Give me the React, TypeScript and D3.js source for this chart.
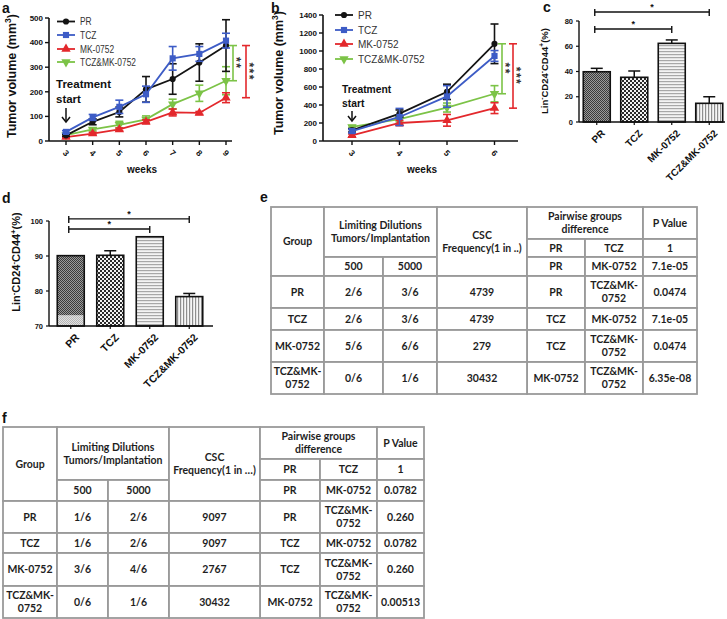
import React from 'react';
import * as d3 from 'd3';

// ---------- DATA ----------
const seriesNames = ['PR', 'TCZ', 'MK-0752', 'TCZ&MK-0752'];
const seriesColors = ['#141414', '#3d5cc6', '#e3282c', '#7cc347'];

const weeksA = [3, 4, 5, 6, 7, 8, 9];
const prA = [23, 78, 118, 210, 252, 319, 388];
const prAErr = [4, 12, 20, 52, 62, 76, 105];
const tczA = [37, 96, 139, 190, 336, 354, 408];
const tczAErr = [5, 12, 27, 33, 48, 30, 30];
const mkA = [16, 30, 47, 78, 116, 114, 176];
const mkAErr = [3, 5, 6, 8, 14, 6, 20];
const comboA = [24, 47, 66, 88, 150, 194, 245];
const comboAErr = [4, 6, 14, 14, 20, 33, 57];
const yTicksA = [0, 100, 200, 300, 400, 500];

const weeksB = [3, 4, 5, 6];
const prB = [119, 305, 546, 1080];
const prBErr = [20, 40, 85, 220];
const tczB = [110, 267, 495, 945];
const tczBErr = [20, 95, 120, 60];
const mkB = [63, 200, 230, 365];
const mkBErr = [15, 30, 65, 60];
const comboB = [156, 242, 372, 525];
const comboBErr = [15, 30, 50, 90];
const yTicksB = [0, 200, 400, 600, 800, 1000, 1200, 1400];

const barCats = ['PR', 'TCZ', 'MK-0752', 'TCZ&MK-0752'];
const cVals = [39.8, 35.4, 62.3, 14.8];
const cErr = [2.7, 5, 2.7, 5.2];
const cTicks = [0, 20, 40, 60, 80];
const dVals = [90.1, 90.2, 95.5, 78.4];
const dErr = [0, 1.3, 0, 0.9];
const dTicks = [70, 80, 90, 100];
const dPRLightTop = 73.1;

const eGroups = ['PR', 'TCZ', 'MK-0752', 'TCZ&MK-0752'];
const e500 = ['2/6', '2/6', '5/6', '0/6'];
const e5000 = ['3/6', '3/6', '6/6', '1/6'];
const eFreq = ['4739', '4739', '279', '30432'];
const pairA = ['PR', 'PR', 'PR', 'TCZ', 'TCZ', 'MK-0752'];
const pairB = ['TCZ', 'MK-0752', 'TCZ&MK-0752', 'MK-0752', 'TCZ&MK-0752', 'TCZ&MK-0752'];
const ePval = ['1', '7.1e-05', '0.0474', '7.1e-05', '0.0474', '6.35e-08'];

const f500 = ['1/6', '1/6', '3/6', '0/6'];
const f5000 = ['2/6', '2/6', '4/6', '1/6'];
const fFreq = ['9097', '9097', '2767', '30432'];
const fPval = ['1', '0.0782', '0.260', '0.0782', '0.260', '0.00513'];

// ---------- STYLE ----------
const FONT = "'Liberation Sans', Arial, Helvetica, sans-serif";
const TFONT = "Lato, 'Open Sans', sans-serif";
const symbols = [d3.symbolCircle, d3.symbolSquare, d3.symbolTriangle, d3.symbolTriangle];
const symSizes = [30, 38, 38, 38];
const symRot = [0, 0, 0, 180];

function Marker({ i, x, y, scale = 1 }: { i: number; x: number; y: number; scale?: number }) {
  const p = d3.symbol().type(symbols[i]).size(symSizes[i] * scale)()!;
  return <path d={p} transform={`translate(${x},${y}) rotate(${symRot[i]})`} fill={seriesColors[i]} />;
}

type LineCfg = {
  weeks: number[];
  vals: number[][];
  errs: number[][];
  yMax: number;
  yTicks: number[];
  xRange: [number, number];
  yRange: [number, number];
  axisX: number;
  xEnd: number;
  legend: { x: number; ys: number[]; fs: number; sx: number };
  treat: { tx: number; ty1: number; ty2: number; fs: number; ay1: number; ay2: number };
  title: { x: number; y: number };
  weeksLbl: { x: number; y: number };
  brackets: { dx: number; toIdx: number; stars: string; sdx: number }[];
};

function LinePanel({ c }: { c: LineCfg }) {
  const x = d3.scaleLinear().domain([c.weeks[0], c.weeks[c.weeks.length - 1]]).range(c.xRange);
  const y = d3.scaleLinear().domain([0, c.yMax]).range(c.yRange);
  const lastX = x(c.weeks[c.weeks.length - 1]);
  const order = [3, 2, 0, 1];
  const line = d3.line<number>().x((_, i) => x(c.weeks[i])).y((d) => y(d));
  const prLast = c.vals[0][c.vals[0].length - 1];
  return (
    <g fontFamily={FONT}>
      <line x1={c.axisX} x2={c.axisX} y1={y(0)} y2={y(c.yMax)} stroke="#111" strokeWidth={1.6} />
      <line x1={c.axisX} x2={c.xEnd} y1={y(0)} y2={y(0)} stroke="#111" strokeWidth={1.6} />
      {c.yTicks.map((t) => (
        <g key={t}>
          <line x1={c.axisX - 4} x2={c.axisX} y1={y(t)} y2={y(t)} stroke="#111" strokeWidth={1.4} />
          <text x={c.axisX - 6} y={y(t)} dy="0.35em" textAnchor="end" fontSize={8} fontWeight="bold" fill="#111">{t}</text>
        </g>
      ))}
      {c.weeks.map((w) => (
        <g key={w}>
          <line x1={x(w)} x2={x(w)} y1={y(0)} y2={y(0) + 4} stroke="#111" strokeWidth={1.4} />
          <text transform={`translate(${x(w)},${y(0) + 12}) rotate(45)`} textAnchor="middle" dy="0.35em" fontSize={8.5} fontWeight="bold" fill="#111">{w}</text>
        </g>
      ))}
      <text x={c.weeksLbl.x} y={c.weeksLbl.y} textAnchor="middle" fontSize={10} fontWeight="bold" fill="#111">weeks</text>
      <text transform={`translate(${c.title.x},${c.title.y}) rotate(-90)`} textAnchor="middle" dy="0.35em" fontSize={12.5} fontWeight="bold" fill="#111">
        Tumor volume (mm<tspan dy={-5} fontSize={8.5}>3</tspan><tspan dy={5}>)</tspan>
      </text>
      {order.map((s) => (
        <g key={s}>
          {c.vals[s].map((v, i) => {
            const e = c.errs[s][i];
            const xx = x(c.weeks[i]);
            return (
              <g key={i} stroke={seriesColors[s]} strokeWidth={1.6}>
                <line x1={xx} x2={xx} y1={y(v - e)} y2={y(v + e)} />
                <line x1={xx - 4} x2={xx + 4} y1={y(v + e)} y2={y(v + e)} />
                <line x1={xx - 4} x2={xx + 4} y1={y(v - e)} y2={y(v - e)} />
              </g>
            );
          })}
          <path d={line(c.vals[s])!} fill="none" stroke={seriesColors[s]} strokeWidth={1.8} />
          {c.vals[s].map((v, i) => (
            <Marker key={i} i={s} x={x(c.weeks[i])} y={y(v)} />
          ))}
        </g>
      ))}
      {c.brackets.map((b, k) => {
        const bx = lastX + b.dx;
        const other = c.vals[b.toIdx][c.vals[b.toIdx].length - 1];
        const y1 = y(prLast), y2 = y(other);
        return (
          <g key={k}>
            <g stroke={seriesColors[b.toIdx]} strokeWidth={1.6}>
              <line x1={bx} x2={bx} y1={y1} y2={y2} />
              <line x1={bx - 4} x2={bx + 4} y1={y1} y2={y1} />
              <line x1={bx - 4} x2={bx + 4} y1={y2} y2={y2} />
            </g>
            <text transform={`translate(${bx + b.sdx},${(y1 + y2) / 2}) rotate(90)`} textAnchor="middle" dy="0.7em" fontSize={12} fontWeight="bold" fill="#333" letterSpacing={1.5}>{b.stars}</text>
          </g>
        );
      })}
      {seriesNames.map((n, s) => (
        <g key={n}>
          <line x1={c.legend.x} x2={c.legend.x + 18} y1={c.legend.ys[s]} y2={c.legend.ys[s]} stroke={seriesColors[s]} strokeWidth={1.8} />
          <Marker i={s} x={c.legend.x + 9} y={c.legend.ys[s]} />
          <text transform={`translate(${c.legend.x + 23},${c.legend.ys[s]}) scale(${c.legend.sx},1)`} dy="0.36em" fontSize={c.legend.fs} fill="#333">{n}</text>
        </g>
      ))}
      <text x={c.treat.tx} y={c.treat.ty1} fontSize={c.treat.fs} fontWeight="bold" fill="#111">Treatment</text>
      <text x={c.treat.tx} y={c.treat.ty2} fontSize={c.treat.fs} fontWeight="bold" fill="#111">start</text>
      <g stroke="#111" strokeWidth={1.5} fill="none">
        <line x1={x(c.weeks[0])} x2={x(c.weeks[0])} y1={c.treat.ay1} y2={c.treat.ay2} />
        <polyline points={`${x(c.weeks[0]) - 4},${c.treat.ay2 - 5} ${x(c.weeks[0])},${c.treat.ay2} ${x(c.weeks[0]) + 4},${c.treat.ay2 - 5}`} />
      </g>
    </g>
  );
}

const patIds = ['patPR', 'patTCZ', 'patMK', 'patCombo'];

function Patterns() {
  return (
    <defs>
      <pattern id="patPR" width={2} height={2} patternUnits="userSpaceOnUse">
        <rect width={2} height={2} fill="#9a9a9a" />
        <rect width={1} height={1} fill="#3a3a3a" />
        <rect x={1} y={1} width={1} height={1} fill="#3a3a3a" />
      </pattern>
      <pattern id="patPRLight" width={2} height={2} patternUnits="userSpaceOnUse">
        <rect width={2} height={2} fill="#e2e2e2" />
        <rect width={1} height={1} fill="#b5b5b5" />
        <rect x={1} y={1} width={1} height={1} fill="#b5b5b5" />
      </pattern>
      <pattern id="patTCZ" width={4} height={4} patternUnits="userSpaceOnUse">
        <rect width={4} height={4} fill="#2a2a2a" />
        <rect width={2} height={2} fill="#f2f2f2" />
        <rect x={2} y={2} width={2} height={2} fill="#f2f2f2" />
      </pattern>
      <pattern id="patMK" width={3} height={3} patternUnits="userSpaceOnUse">
        <rect width={3} height={3} fill="#f4f4f4" />
        <rect width={3} height={1.2} fill="#a8a8a8" />
      </pattern>
      <pattern id="patCombo" width={3} height={3} patternUnits="userSpaceOnUse">
        <rect width={3} height={3} fill="#f6f6f6" />
        <rect width={1.2} height={3} fill="#8e8e8e" />
      </pattern>
    </defs>
  );
}

type BarCfg = {
  vals: number[];
  errs: number[];
  ticks: number[];
  yDomain: [number, number];
  yRange: [number, number];
  xRange: [number, number];
  axisX: number;
  xEnd: number;
  bw: number;
  tickFs: number;
  lblFs: number;
  titleFs: number;
  title: { x: number; y: number };
  sig: { from: number; to: number; level: number }[];
  light?: number;
};

function BarPanel({ c }: { c: BarCfg }) {
  const x = d3.scalePoint<string>().domain(barCats).range(c.xRange).padding(0.5);
  const y = d3.scaleLinear().domain(c.yDomain).range(c.yRange);
  const y0 = y(c.yDomain[0]);
  return (
    <g fontFamily={FONT}>
      {barCats.map((cat, i) => {
        const xc = x(cat)!;
        const v = c.vals[i];
        const e = c.errs[i];
        return (
          <g key={cat}>
            <rect x={xc - c.bw / 2} y={y(v)} width={c.bw} height={y0 - y(v)} fill={`url(#${patIds[i]})`} />
            {i === 0 && c.light !== undefined && (
              <rect x={xc - c.bw / 2} y={y(c.light)} width={c.bw} height={y0 - y(c.light)} fill="url(#patPRLight)" />
            )}
            <rect x={xc - c.bw / 2} y={y(v)} width={c.bw} height={y0 - y(v)} fill="none" stroke="#111" strokeWidth={1.6} />
            {e > 0 && (
              <g stroke="#111" strokeWidth={1.5}>
                <line x1={xc} x2={xc} y1={y(v)} y2={y(v + e)} />
                <line x1={xc - 6} x2={xc + 6} y1={y(v + e)} y2={y(v + e)} />
              </g>
            )}
            <text transform={`translate(${xc + 4},${y0 + 7}) rotate(-45)`} textAnchor="end" dy="0.7em" fontSize={c.lblFs} fontWeight="bold" fill="#111">{cat}</text>
          </g>
        );
      })}
      <line x1={c.axisX} x2={c.axisX} y1={y0} y2={y(c.yDomain[1])} stroke="#111" strokeWidth={1.4} />
      <line x1={c.axisX} x2={c.xEnd} y1={y0} y2={y0} stroke="#111" strokeWidth={1.4} />
      {c.ticks.map((t) => (
        <g key={t}>
          <line x1={c.axisX - 3} x2={c.axisX} y1={y(t)} y2={y(t)} stroke="#111" strokeWidth={1.2} />
          <text x={c.axisX - 6} y={y(t)} dy="0.35em" textAnchor="end" fontSize={c.tickFs} fontWeight="bold" fill="#111">{t}</text>
        </g>
      ))}
      {barCats.map((cat) => (
        <line key={cat} x1={x(cat)!} x2={x(cat)!} y1={y0} y2={y0 + 3} stroke="#111" strokeWidth={1.2} />
      ))}
      {c.sig.map((s, k) => {
        const x1 = x(barCats[s.from])! - 2, x2 = x(barCats[s.to])!;
        const yy = y(s.level);
        return (
          <g key={k} stroke="#111" strokeWidth={1.4}>
            <line x1={x1} x2={x2} y1={yy} y2={yy} />
            <line x1={x1} x2={x1} y1={yy - 3} y2={yy + 4} />
            <line x1={x2} x2={x2} y1={yy - 3} y2={yy + 4} />
            <text x={(x1 + x2) / 2} y={yy - 2} textAnchor="middle" fontSize={9} fontWeight="bold" stroke="none" fill="#111">*</text>
          </g>
        );
      })}
      <text transform={`translate(${c.title.x},${c.title.y}) rotate(-90)`} textAnchor="middle" dy="0.35em" fontSize={c.titleFs} fontWeight="bold" fill="#111">
        Lin<tspan dy={-4} fontSize={c.titleFs * 0.7}>-</tspan><tspan dy={4}>CD24</tspan><tspan dy={-4} fontSize={c.titleFs * 0.7}>-</tspan><tspan dy={4}>CD44</tspan><tspan dy={-4} fontSize={c.titleFs * 0.7}>+</tspan><tspan dy={4}>(%)</tspan>
      </text>
    </g>
  );
}

type Cell = { c0: number; c1: number; r0: number; r1: number; lines: string[] };

function wrapLabel(s: string): string[] {
  return s.includes('&') ? [s.slice(0, s.indexOf('-') + 1), s.slice(s.indexOf('-') + 1)] : [s];
}

function buildCells(g500: string[], g5000: string[], freq: string[], pval: string[], freqHdr: string): Cell[] {
  const cells: Cell[] = [
    { c0: 0, c1: 0, r0: 0, r1: 2, lines: ['Group'] },
    { c0: 1, c1: 2, r0: 0, r1: 1, lines: ['Limiting Dilutions', 'Tumors/Implantation'] },
    { c0: 1, c1: 1, r0: 2, r1: 2, lines: ['500'] },
    { c0: 2, c1: 2, r0: 2, r1: 2, lines: ['5000'] },
    { c0: 3, c1: 3, r0: 0, r1: 2, lines: ['CSC', freqHdr] },
    { c0: 4, c1: 5, r0: 0, r1: 0, lines: ['Pairwise groups', 'difference'] },
    { c0: 6, c1: 6, r0: 0, r1: 0, lines: ['P Value'] },
  ];
  pairA.forEach((a, i) => {
    cells.push({ c0: 4, c1: 4, r0: i + 1, r1: i + 1, lines: wrapLabel(a) });
    cells.push({ c0: 5, c1: 5, r0: i + 1, r1: i + 1, lines: wrapLabel(pairB[i]) });
    cells.push({ c0: 6, c1: 6, r0: i + 1, r1: i + 1, lines: [pval[i]] });
  });
  eGroups.forEach((g, i) => {
    cells.push({ c0: 0, c1: 0, r0: i + 3, r1: i + 3, lines: wrapLabel(g) });
    cells.push({ c0: 1, c1: 1, r0: i + 3, r1: i + 3, lines: [g500[i]] });
    cells.push({ c0: 2, c1: 2, r0: i + 3, r1: i + 3, lines: [g5000[i]] });
    cells.push({ c0: 3, c1: 3, r0: i + 3, r1: i + 3, lines: [freq[i]] });
  });
  return cells;
}

function Table({ x0, y0, colW, rowH, cells, fs }: { x0: number; y0: number; colW: number[]; rowH: number[]; cells: Cell[]; fs: number }) {
  const xs = [x0];
  colW.forEach((w) => xs.push(xs[xs.length - 1] + w));
  const ys = [y0];
  rowH.forEach((h) => ys.push(ys[ys.length - 1] + h));
  const lh = fs * 1.2;
  return (
    <g fontFamily={TFONT}>
      {cells.map((c, k) => {
        const X0 = xs[c.c0], X1 = xs[c.c1 + 1], Y0 = ys[c.r0], Y1 = ys[c.r1 + 1];
        const cx = (X0 + X1) / 2, cy = (Y0 + Y1) / 2;
        return (
          <g key={k}>
            <rect x={X0} y={Y0} width={X1 - X0} height={Y1 - Y0} fill="#fff" stroke="#9a9a9a" strokeWidth={1.8} />
            {c.lines.map((l, j) => (
              <text key={j} x={cx} y={cy + (j - (c.lines.length - 1) / 2) * lh} dy="0.36em" textAnchor="middle" fontSize={fs} fontWeight={700} fill="#1e1e1e">{l}</text>
            ))}
          </g>
        );
      })}
    </g>
  );
}

export default function App() {
  const vA = [prA, tczA, mkA, comboA];
  const eA = [prAErr, tczAErr, mkAErr, comboAErr];
  const vB = [prB, tczB, mkB, comboB];
  const eB = [prBErr, tczBErr, mkBErr, comboBErr];
  const cfgA: LineCfg = {
    weeks: weeksA, vals: vA, errs: eA, yMax: 500, yTicks: yTicksA,
    xRange: [66, 226], yRange: [141, 18], axisX: 49, xEnd: 232,
    legend: { x: 57, ys: [21.5, 35, 49, 62], fs: 10.5, sx: 0.8 },
    treat: { tx: 56, ty1: 88, ty2: 103, fs: 11.5, ay1: 108, ay2: 122 },
    title: { x: 12, y: 76 }, weeksLbl: { x: 142, y: 173 },
    brackets: [
      { dx: 7, toIdx: 3, stars: '**', sdx: 7 },
      { dx: 20, toIdx: 2, stars: '***', sdx: 7 },
    ],
  };
  const cfgB: LineCfg = {
    weeks: weeksB, vals: vB, errs: eB, yMax: 1400, yTicks: yTicksB,
    xRange: [352, 494.5], yRange: [141, 15], axisX: 323, xEnd: 518,
    legend: { x: 335, ys: [15, 30, 44, 59], fs: 10, sx: 1 },
    treat: { tx: 342, ty1: 93, ty2: 107, fs: 10.3, ay1: 111, ay2: 121 },
    title: { x: 279, y: 73 }, weeksLbl: { x: 422, y: 173 },
    brackets: [
      { dx: 7.5, toIdx: 3, stars: '**', sdx: 7 },
      { dx: 18.5, toIdx: 2, stars: '***', sdx: 7 },
    ],
  };
  const cfgC: BarCfg = {
    vals: cVals, errs: cErr, ticks: cTicks, yDomain: [0, 80], yRange: [122, 21],
    xRange: [578, 728], axisX: 579, xEnd: 725, bw: 27, tickFs: 7.5, lblFs: 10, titleFs: 9.5,
    title: { x: 545, y: 71 },
    sig: [{ from: 0, to: 3, level: 87.1 }, { from: 0, to: 2, level: 73.7 }],
  };
  const cfgD: BarCfg = {
    vals: dVals, errs: dErr, ticks: dTicks, yDomain: [70, 100], yRange: [326, 221],
    xRange: [51, 209], axisX: 49, xEnd: 213, bw: 27, tickFs: 7.5, lblFs: 10.5, titleFs: 11,
    title: { x: 16, y: 262 },
    sig: [{ from: 0, to: 3, level: 100.6 }, { from: 0, to: 2, level: 97.7 }],
    light: dPRLightTop,
  };
  const cellsE = buildCells(e500, e5000, eFreq, ePval, 'Frequency(1 in ..)');
  const cellsF = buildCells(f500, f5000, fFreq, fPval, 'Frequency(1 in …)');
  const lbl = (t: string, x: number, y: number) => (
    <text x={x} y={y} fontFamily={FONT} fontSize={14} fontWeight="bold" fill="#111">{t}</text>
  );
  return (
    <svg width={727} height={619} viewBox="0 0 727 619" style={{ position: 'absolute', left: 0, top: 0, background: '#fff' }}>
      <Patterns />
      <rect width={727} height={619} fill="#fff" />
      <LinePanel c={cfgA} />
      <LinePanel c={cfgB} />
      <BarPanel c={cfgC} />
      <BarPanel c={cfgD} />
      <Table x0={271} y0={207} colW={[53, 59, 54, 90, 58, 58, 54]} rowH={[32, 18, 19, 32, 22, 32, 32]} cells={cellsE} fs={10.5} />
      <Table x0={3} y0={427} colW={[54, 51, 61, 91, 60, 57, 47]} rowH={[32, 21, 21, 32, 20, 33, 32]} cells={cellsF} fs={10.5} />
      {lbl('a', 2, 13)}
      {lbl('b', 271, 13)}
      {lbl('c', 543, 12)}
      {lbl('d', 2, 203)}
      {lbl('e', 260, 202)}
      {lbl('f', 2, 423)}
    </svg>
  );
}
